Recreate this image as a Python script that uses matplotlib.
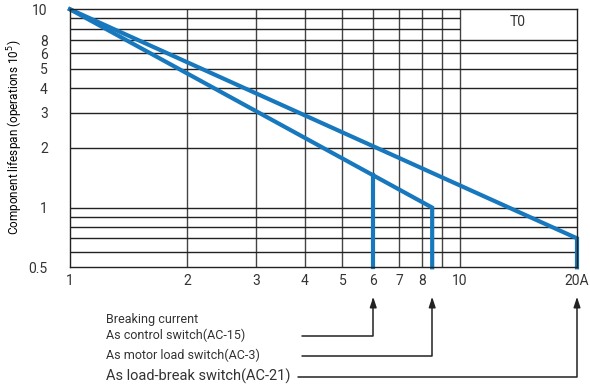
import matplotlib
matplotlib.use("Agg")
import matplotlib.pyplot as plt

plt.rcParams['font.family'] = ['Liberation Sans Narrow', 'DejaVu Sans Condensed', 'Roboto', 'DejaVu Sans']
plt.rcParams['text.color'] = '#333333'

# curves (current in A, lifespan in 10^5 operations)
ac3_x = [1, 8.5, 8.5]
ac3_y = [10, 1.0, 0.5]
ac15_x = [6, 6]
ac15_y = [1.46, 0.5]
ac21_x = [1, 20, 20]
ac21_y = [10, 0.7, 0.5]

xticks = [1, 2, 3, 4, 5, 6, 7, 8, 10, 20]
xlabels = ['1', '2', '3', '4', '5', '6', '7', '8', '10', '20A']
yticks = [0.5, 1, 2, 3, 4, 5, 6, 7, 10]
ylabels = ['0.5', '1', '2', '3', '4', '5', '6', '8', '10']

grid_x = [2, 3, 4, 5, 6, 7, 8, 9, 10]
grid_y = [0.6, 0.7, 0.8, 0.9, 1, 2, 3, 4, 5, 6, 7]
grid_y_short = [8, 9]

arrow_x = [6, 8.5, 20]
labels = ['As control switch(AC-15)', 'As motor load switch(AC-3)',
          'As load-break switch(AC-21)']

blue = '#1878be'
W, H = 590, 388
fig = plt.figure(figsize=(5.9, 3.88), dpi=100)
ax = fig.add_axes([70 / W, 1 - 267.3 / H, 507 / W, 258 / H])
ax.set_xscale('log')
ax.set_yscale('log')
ax.set_xlim(1, 20)
ax.set_ylim(0.5, 10)

ax.vlines(grid_x, 0.5, 10, color='#444444', lw=1)
ax.hlines(grid_y, 1, 20, color='#222222', lw=1)
ax.hlines(grid_y_short, 1, 10, color='#222222', lw=1)

ax.plot(ac3_x, ac3_y, color=blue, lw=3, solid_joinstyle='miter', clip_on=False)
ax.plot(ac15_x, ac15_y, color=blue, lw=3, clip_on=False)
ax.plot(ac21_x, ac21_y, color=blue, lw=3, solid_joinstyle='miter', clip_on=False)

ax.text(14.1, 8.6, 'T0', ha='center', va='center', fontsize=10)

ax.minorticks_off()
ax.set_xticks(xticks)
ax.set_xticklabels(xlabels)
ax.set_yticks(yticks)
ax.set_yticklabels(ylabels)
ax.tick_params(length=0, labelsize=10, labelcolor='#333333')
ax.tick_params(axis='x', pad=5)
ax.tick_params(axis='y', pad=16)
for s in ax.spines.values():
    s.set_color('#222222')
    s.set_linewidth(1)

ax.set_ylabel('Component lifespan (operations 10$^5$)', fontsize=8.5)
ax.yaxis.set_label_coords(-0.088, 0.505)

# legend of breaking currents below the chart
fig.text(106 / W, 1 - 319 / H, 'Breaking current', fontsize=9, va='center')
row_y = [335.7, 355.7, 376.7]
line_start = [301.7, 301.7, 298]
sizes = [9, 9, 10.5]
for xa, lab, ry, xs, fs in zip(arrow_x, labels, row_y, line_start, sizes):
    fig.text(106 / W, 1 - ry / H, lab, fontsize=fs, va='center')
    ax.annotate('', xy=(xa, H - 297), xycoords=('data', 'figure pixels'),
                xytext=(xs, H - ry), textcoords='figure pixels',
                arrowprops=dict(arrowstyle='-|>,head_length=0.6,head_width=0.2',
                                color='#222222', lw=1.1, shrinkA=0, shrinkB=0,
                                connectionstyle='angle,angleA=0,angleB=90,rad=0'))

fig.savefig('out.png', dpi=100)
